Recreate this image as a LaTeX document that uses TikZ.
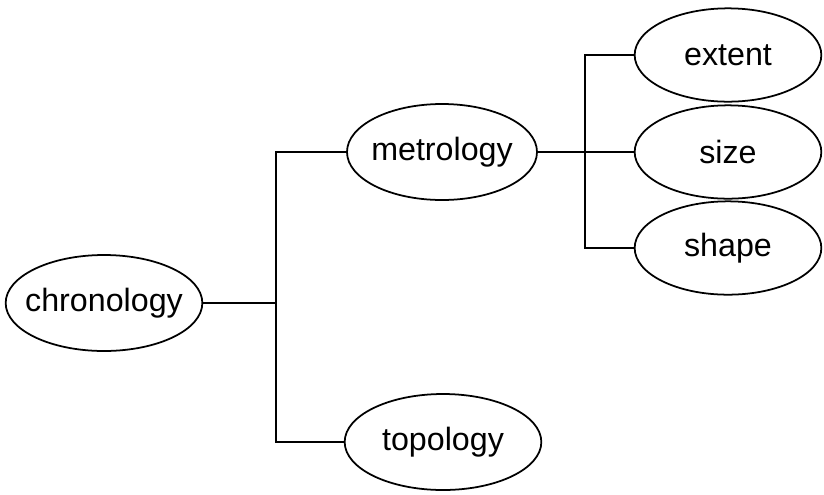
\documentclass[tikz,border=0pt]{standalone}
\usepackage{fontspec}
\setmainfont{Liberation Sans}
\usetikzlibrary{positioning, shapes.geometric}

\tikzset{
  termo/.style={draw, ellipse, line width=1.5pt, minimum width=5.9cm, minimum height=2.88cm,
    inner xsep=-1.2cm, inner ysep=0pt, font=\fontsize{27.5}{32}\selectfont},
  folha/.style={termo, minimum width=5.6cm, minimum height=2.8cm},
  ramo/.style={line width=1.5pt}
}

\begin{document}
\begin{tikzpicture}[x=0.03cm, y=-0.03cm]
\useasboundingbox (0,0) rectangle (824,494);

% Termos
\node[termo] (chron) at (104,303) {chronology};
\node[termo, minimum width=5.7cm] (metro) at (442,152) {metrology};
\node[termo] (topo) at (443,442) {topology};
\node[folha] (extent) at (728,55) {extent};
\node[folha] (size) at (728,152) {size};
\node[folha] (shape) at (728,248) {shape};

% Pontos de ramificação
\coordinate (ramoA) at (276,303);
\coordinate (ramoB) at (585,152);

% Ligações
\draw[ramo] (chron) -- (ramoA);
\draw[ramo] (metro.west) -| (ramoA);
\draw[ramo] (topo.west) -| (ramoA);
\draw[ramo] (metro) -- (size);
\draw[ramo] (extent.west) -| (ramoB);
\draw[ramo] (shape.west) -| (ramoB);

\end{tikzpicture}
\end{document}
